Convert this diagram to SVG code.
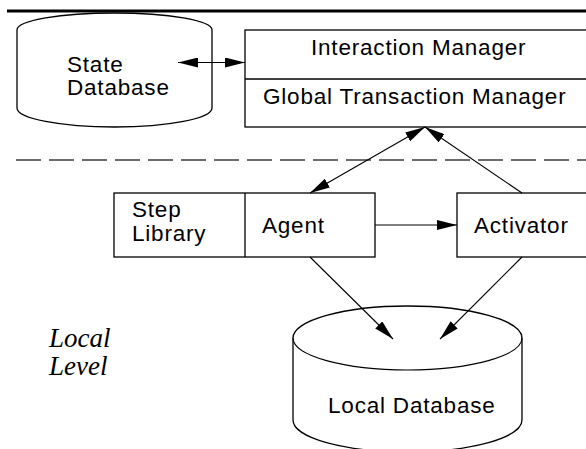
<svg xmlns="http://www.w3.org/2000/svg" width="586" height="449" viewBox="0 0 586 449">
  <style>
    .shape { fill: #fff; stroke: #000; stroke-width: 1.3; }
    .line { fill: none; stroke: #000; stroke-width: 1.1; }
    .label { font-family: "Liberation Sans", Arial, sans-serif; font-size: 22.5px; letter-spacing: 0.8px; fill: #000; }
    .level { font-family: "Liberation Serif", "Times New Roman", serif; font-style: italic; font-size: 27px; fill: #000; }
  </style>
  <defs>
    <marker id="head" markerUnits="userSpaceOnUse" markerWidth="20" markerHeight="10" refX="20" refY="5" orient="auto-start-reverse">
      <path d="M0,0 L20,5 L0,10 z" fill="#000"/>
    </marker>
  </defs>
  <rect width="586" height="449" fill="#fff"/>

  <!-- top rule and level separator -->
  <line x1="7" y1="11" x2="586" y2="11" stroke="#000" stroke-width="3"/>
  <line x1="16" y1="160" x2="586" y2="160" stroke="#6b6b6b" stroke-width="2" stroke-dasharray="25 8"/>

  <g id="state-db">
    <path class="shape" d="M17,30 A97.5,17 0 0 1 212,30 L212,108 A97.5,19 0 0 1 17,108 Z"/>
    <text class="label" x="67" y="72">State</text>
    <text class="label" x="67" y="95">Database</text>
  </g>

  <g id="managers">
    <rect class="shape" x="245" y="30" width="350" height="97"/>
    <line class="shape" x1="245" y1="79" x2="595" y2="79"/>
    <text class="label" x="311" y="55">Interaction Manager</text>
    <text class="label" x="263" y="104">Global Transaction Manager</text>
  </g>

  <g id="agent">
    <rect class="shape" x="114" y="193" width="261" height="64"/>
    <line class="shape" x1="245" y1="193" x2="245" y2="257"/>
    <text class="label" x="132" y="217">Step</text>
    <text class="label" x="132" y="241">Library</text>
    <text class="label" x="262" y="233">Agent</text>
  </g>

  <g id="activator">
    <rect class="shape" x="457" y="193" width="140" height="64"/>
    <text class="label" x="474" y="233">Activator</text>
  </g>

  <g id="local-db">
    <path class="shape" d="M293,338 A114.5,32 0 0 1 522,338 L522,420 A114.5,32 0 0 1 293,420 Z"/>
    <path class="line" d="M293,338 A114.5,32 0 0 0 522,338"/>
    <text class="label" x="328" y="413">Local Database</text>
  </g>

  <g id="level-label">
    <text class="level" x="49" y="347">Local</text>
    <text class="level" x="49" y="375">Level</text>
  </g>

  <g id="connectors">
    <line class="line" x1="178" y1="62.5" x2="245" y2="62.5" marker-start="url(#head)" marker-end="url(#head)"/>
    <line class="line" x1="310" y1="193" x2="425" y2="127" marker-start="url(#head)" marker-end="url(#head)"/>
    <line class="line" x1="522" y1="193" x2="425" y2="127" marker-end="url(#head)"/>
    <line class="line" x1="375" y1="225" x2="457" y2="225" marker-end="url(#head)"/>
    <line class="line" x1="310" y1="257" x2="393" y2="339" marker-end="url(#head)"/>
    <line class="line" x1="522" y1="257" x2="440" y2="339" marker-end="url(#head)"/>
  </g>
</svg>
